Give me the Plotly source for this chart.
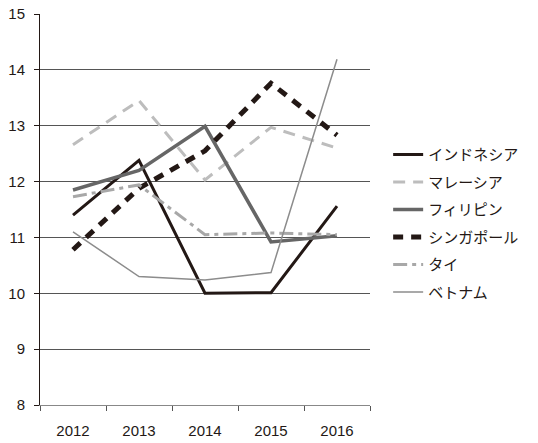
import plotly.graph_objects as go

years = ["2012", "2013", "2014", "2015", "2016"]

indonesia = [11.40, 12.38, 10.00, 10.01, 11.56]
malaysia = [12.66, 13.45, 12.03, 12.97, 12.60]
philippines = [11.85, 12.20, 12.99, 10.92, 11.03]
singapore = [10.78, 11.88, 12.55, 13.76, 12.83]
thailand = [11.73, 11.94, 11.05, 11.08, 11.05]
vietnam = [11.10, 10.30, 10.24, 10.37, 14.19]

y_ticks = [8, 9, 10, 11, 12, 13, 14, 15]

series = [
    ("インドネシア", indonesia, "#231815", 3, "solid"),
    ("マレーシア", malaysia, "#bdbdbd", 3, "12px,8px"),
    ("フィリピン", philippines, "#666666", 3.5, "solid"),
    ("シンガポール", singapore, "#231815", 5, "10px,8px"),
    ("タイ", thailand, "#a8a8a8", 3, "14px,5px,4px,5px"),
    ("ベトナム", vietnam, "#8c8c8c", 1.5, "solid"),
]

fig = go.Figure()
for i, (name, vals, color, width, dash) in enumerate(series):
    fig.add_trace(go.Scatter(
        x=years, y=vals, name=name, mode="lines",
        line=dict(color=color, width=width, dash=dash),
        legendgroup=f"g{i}",
    ))

axis_font = dict(family="Liberation Sans, Arial, sans-serif", size=15, color="#231815")

fig.update_layout(
    width=538, height=443,
    margin=dict(l=40, r=168, t=14, b=38),
    paper_bgcolor="white", plot_bgcolor="white",
    showlegend=True,
    legend=dict(
        x=1.055, y=0.465, xanchor="left", yanchor="middle",
        font=dict(family="Noto Sans CJK JP", size=15, color="#231815"),
        traceorder="grouped", tracegroupgap=5,
        bgcolor="rgba(0,0,0,0)",
    ),
    xaxis=dict(
        type="category", range=[-0.5, 4.5], automargin=False,
        showgrid=False, showline=True, linecolor="#888888", linewidth=1,
        ticks="outside", ticklen=5, tickcolor="#555555",
        tickson="boundaries", ticklabelstandoff=12,
        tickfont=axis_font,
    ),
    yaxis=dict(
        range=[8, 15], tickvals=y_ticks, automargin=False,
        showgrid=True, gridcolor="#555555", gridwidth=1,
        showline=True, linecolor="#231815", linewidth=1,
        ticks="outside", ticklen=5, tickcolor="#231815",
        ticklabelstandoff=6,
        tickfont=axis_font, zeroline=False,
    ),
)

fig.write_html("out.html")
